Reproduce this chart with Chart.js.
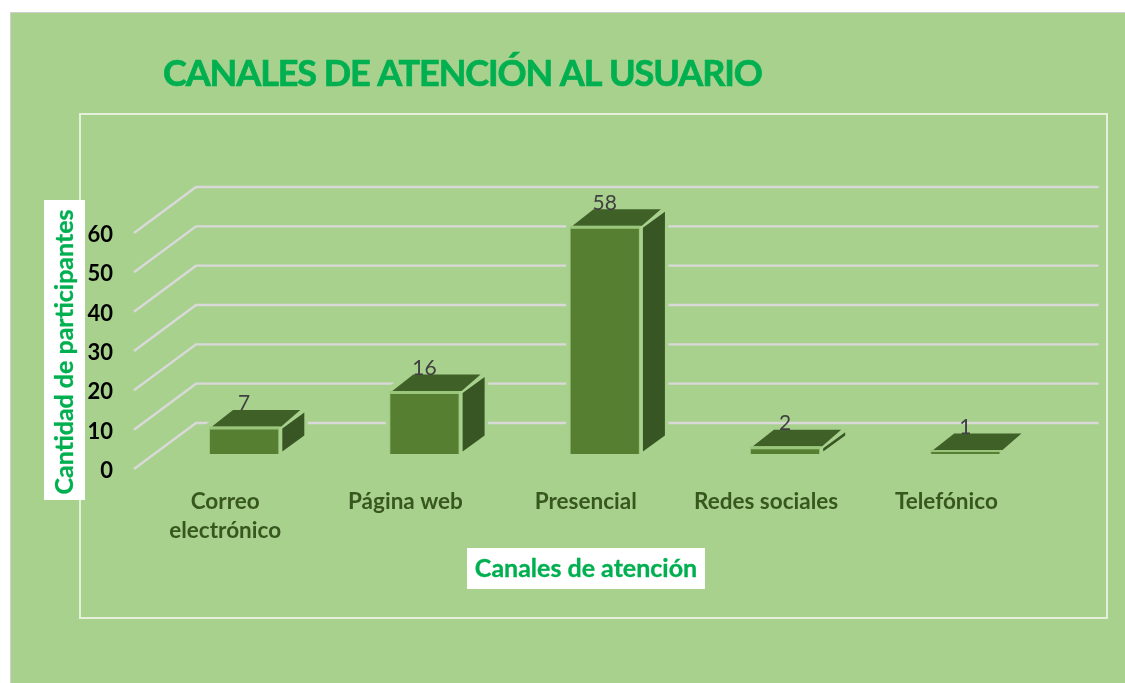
<!DOCTYPE html>
<html lang="es">
<head>
<meta charset="utf-8">
<title>Canales de atención al usuario</title>
<script src="https://cdn.jsdelivr.net/npm/chart.js@4/dist/chart.umd.js"></script>
<style>html,body{margin:0;padding:0;background:#fff}canvas{display:block}</style>
</head>
<body>
<canvas id="c" width="1125" height="683"></canvas>
<script>
const categories = [['Correo', 'electrónico'], 'Página web', 'Presencial', 'Redes sociales', 'Telefónico'];
const participantes = [7, 16, 58, 2, 1];
const chartTitle = 'CANALES DE ATENCIÓN AL USUARIO';
const yAxisTitle = 'Cantidad de participantes';
const xAxisTitle = 'Canales de atención';

const FONT = 'Lato, Carlito, Calibri, sans-serif';
const BG = '#A9D18E', GREEN = '#00B050', GRID = '#D9D9D9';
const FRONT = '#567F32', TOP = '#3F6026', SIDE = '#375623', EDGE = '#9AC67C';

function boldText(c, text, x, y, w) {
  c.fillText(text, x, y);
  c.lineWidth = w;
  c.strokeStyle = c.fillStyle;
  c.strokeText(text, x, y);
}

const scene = {
  id: 'scene',
  beforeDraw(chart) {
    const c = chart.ctx;
    c.save();
    c.fillStyle = '#fff';
    c.fillRect(0, 0, chart.width, chart.height);
    c.fillStyle = '#D0D0D0';
    c.fillRect(10, 12, chart.width, chart.height);
    c.fillStyle = BG;
    c.fillRect(11, 13, chart.width, chart.height);
    c.strokeStyle = '#E4F0DA';
    c.lineWidth = 2;
    c.strokeRect(80, 114, 1027, 504);
    c.restore();
  },
  beforeDatasetsDraw(chart) {
    const c = chart.ctx, y = chart.scales.y, a = chart.chartArea;
    c.save();
    c.strokeStyle = GRID;
    c.lineWidth = 2.4;
    y.ticks.forEach(t => {
      const py = y.getPixelForValue(t.value) - 31;
      c.beginPath();
      c.moveTo(a.left - 20, py + 46);
      c.lineTo(a.left + 42, py);
      c.lineTo(a.right + 43, py);
      c.stroke();
    });
    chart.getDatasetMeta(0).data.forEach(b => {
      const l = b.x - b.width / 2, r = b.x + b.width / 2;
      // gap around the solid that hides the grid lines
      c.fillStyle = BG;
      c.strokeStyle = BG;
      c.lineWidth = 7;
      c.lineJoin = 'round';
      c.beginPath();
      c.moveTo(l, b.base);
      c.lineTo(l, b.y);
      c.lineTo(l + 21, b.y - 17);
      c.lineTo(r + 25, b.y - 17);
      c.lineTo(r + 25, b.base - 18);
      c.lineTo(r, b.base);
      c.closePath();
      c.fill();
      c.stroke();
      // top face
      c.fillStyle = TOP;
      c.beginPath();
      c.moveTo(l + 3, b.y);
      c.lineTo(r + 2, b.y);
      c.lineTo(r + 21, b.y - 16.5);
      c.lineTo(l + 24, b.y - 16.5);
      c.closePath();
      c.fill();
      // side face
      const sideH = b.base - b.y - 4;
      if (sideH > 0) {
        c.fillStyle = SIDE;
        c.beginPath();
        c.moveTo(r + 3, b.y + 2);
        c.lineTo(r + 25, b.y - 14);
        c.lineTo(r + 25, b.base - 18.5);
        c.lineTo(r + 3, b.base - 2.5);
        c.closePath();
        c.fill();
      }
    });
    c.restore();
  },
  afterDatasetsDraw(chart) {
    const c = chart.ctx;
    c.save();
    // value labels
    c.fillStyle = '#404040';
    c.font = '21px ' + FONT;
    c.textAlign = 'center';
    c.textBaseline = 'middle';
    chart.getDatasetMeta(0).data.forEach((b, i) => {
      c.fillText(String(participantes[i]), b.x, b.y - 23);
    });
    // chart title
    c.fillStyle = GREEN;
    c.font = 'bold 36px ' + FONT;
    c.textAlign = 'left';
    c.letterSpacing = '-1.1px';
    boldText(c, chartTitle, 163, 74, 0.7);
    c.letterSpacing = '0px';
    // x axis title
    c.fillStyle = '#fff';
    c.fillRect(467, 548, 238, 41);
    c.fillStyle = GREEN;
    c.font = 'bold 25px ' + FONT;
    c.textAlign = 'center';
    boldText(c, xAxisTitle, 586, 569, 0.3);
    // y axis title
    c.fillStyle = '#fff';
    c.fillRect(44, 200, 41, 300);
    c.translate(65, 352);
    c.rotate(-Math.PI / 2);
    c.fillStyle = GREEN;
    boldText(c, yAxisTitle, 0, 0, 0.3);
    c.restore();
  }
};

new Chart(document.getElementById('c'), {
  type: 'bar',
  data: {
    labels: categories,
    datasets: [{
      label: 'Cantidad de participantes',
      data: participantes,
      backgroundColor: FRONT,
      borderColor: EDGE,
      borderWidth: { top: 3, left: 1, right: 1, bottom: 0 },
      borderSkipped: false,
      barPercentage: 0.39,
      categoryPercentage: 1
    }]
  },
  plugins: [scene],
  options: {
    responsive: false,
    animation: false,
    devicePixelRatio: 1,
    layout: { padding: { top: 218, left: 0, right: 69.5, bottom: 129 } },
    plugins: { legend: { display: false }, title: { display: false }, tooltip: { enabled: false } },
    scales: {
      x: {
        grid: { display: false, drawTicks: false },
        border: { display: false },
        afterFit: s => { s.height = 100; },
        ticks: {
          padding: 33,
          labelOffset: -19,
          maxRotation: 0,
          autoSkip: false,
          color: '#38571F',
          font: { family: FONT, size: 22.5, weight: 'bold', lineHeight: 1.3 }
        }
      },
      y: {
        min: 0,
        max: 60,
        grid: { display: false, drawTicks: false },
        border: { display: false },
        afterFit: s => { s.width = 154; },
        ticks: {
          stepSize: 10,
          padding: 41,
          labelOffset: 17,
          color: '#000',
          font: { family: FONT, size: 22, weight: 'bold' }
        }
      }
    }
  }
});
</script>
</body>
</html>
